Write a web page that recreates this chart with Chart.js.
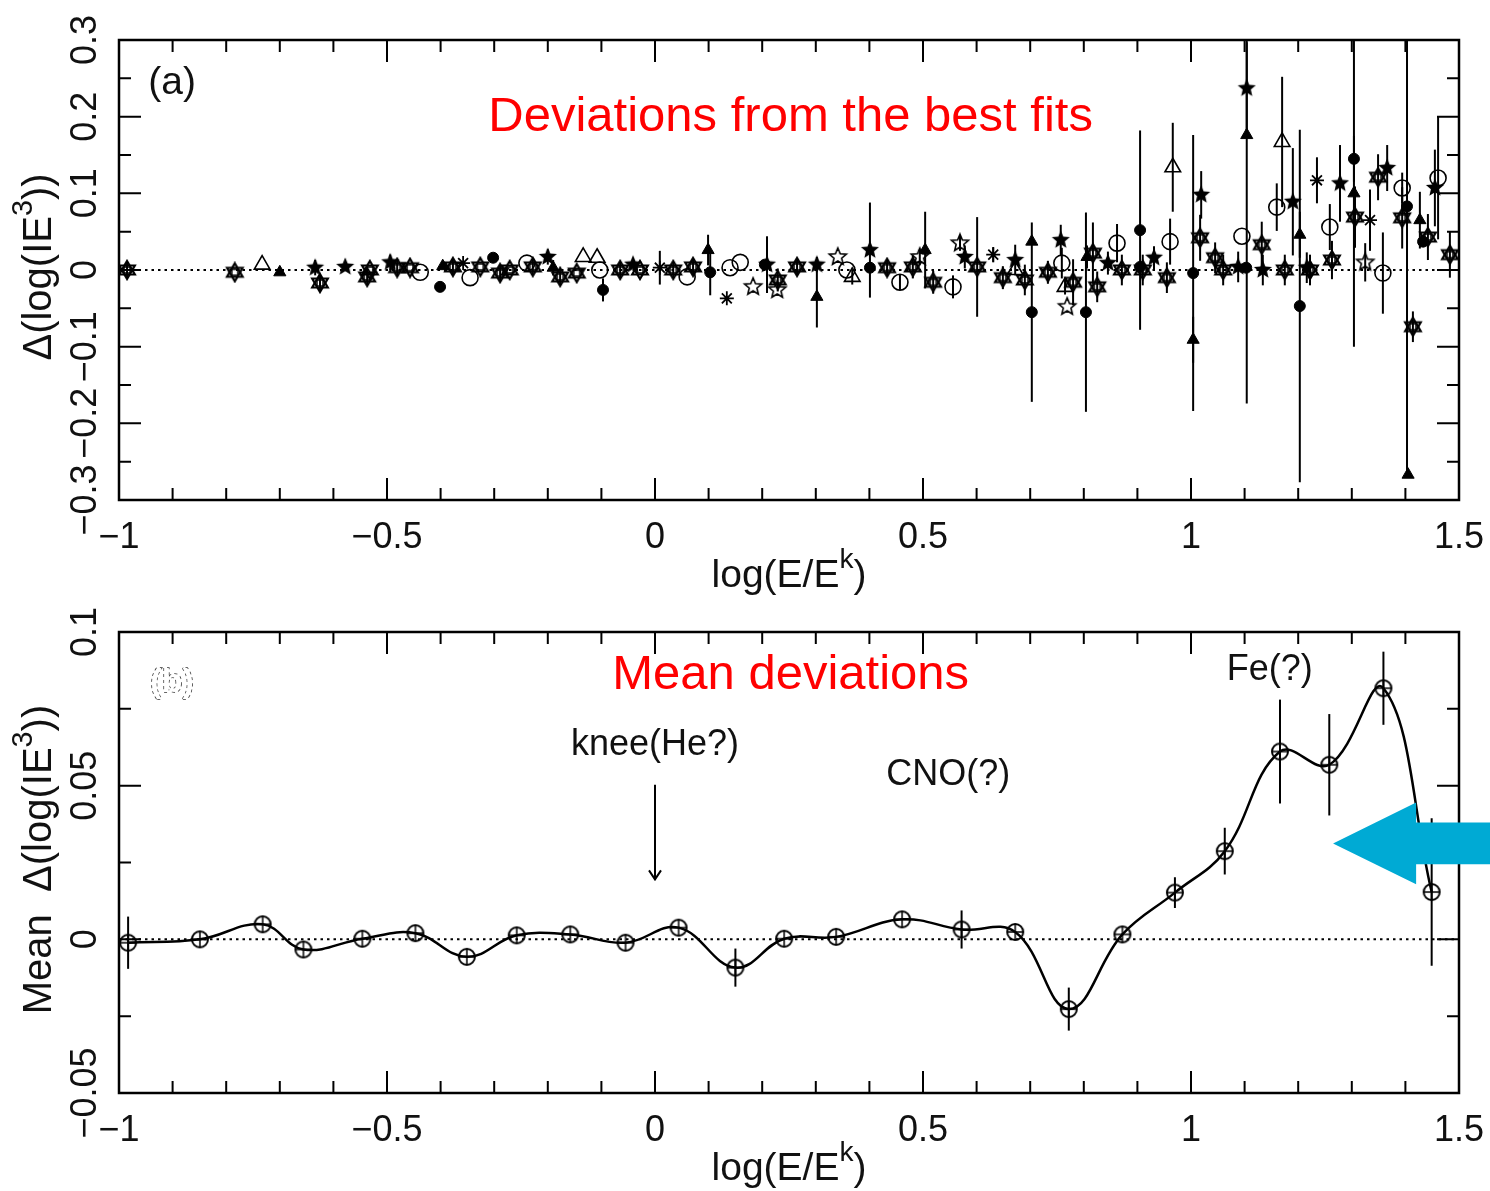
<!DOCTYPE html>
<html>
<head>
<meta charset="utf-8">
<title>Deviations from the best fits</title>
<script src="https://cdn.jsdelivr.net/npm/chart.js@4.4.0/dist/chart.umd.min.js"></script>
<style>
    html, body { margin: 0; padding: 0; background: #ffffff; }
    #wrap { position: relative; width: 1490px; height: 1191px; overflow: hidden; }
    #topChart { position: absolute; left: 0; top: 0; }
    #bottomChart { position: absolute; left: 0; top: 596px; }
</style>
</head>
<body>
<div id="wrap">
    <canvas id="topChart" width="1490" height="596"></canvas>
    <canvas id="bottomChart" width="1490" height="595"></canvas>
</div>
<script>
// Two-panel deviation plot: (a) individual deviations, (b) mean deviations

// ---- axis ticks ----
const xTickValues = [-1, -0.5, 0, 0.5, 1, 1.5];
const xTickLabels = ['\u22121', '\u22120.5', '0', '0.5', '1', '1.5'];
const topYTickValues = [-0.3, -0.2, -0.1, 0, 0.1, 0.2, 0.3];
const topYTickLabels = ['\u22120.3', '\u22120.2', '\u22120.1', '0', '0.1', '0.2', '0.3'];
const bottomYTickValues = [-0.05, 0, 0.05, 0.1];
const bottomYTickLabels = ['\u22120.05', '0', '0.05', '0.1'];

// ---- panel (a): filled circles ----
const fcX = [-0.401, -0.302, -0.097, 0.103, 0.205, 0.401, 0.703, 0.804, 0.905, 0.905, 1.004, 1.103, 1.203, 1.304, 1.403, 1.433];
const fcY = [-0.022, 0.016, -0.026, -0.003, 0.007, 0.003, -0.055, -0.055, 0.052, 0.004, -0.004, 0.003, -0.047, 0.145, 0.083, 0.037];
const fcErr = [0, 0, 0.015, 0.03, 0, 0, 0.117, 0.13, 0.13, 0, 0.18, 0, 0.23, 0.03, 0.35, 0];

// ---- panel (a): open circles ----
const ocX = [-0.438, -0.345, -0.239, -0.103, 0.060, 0.140, 0.159, 0.358, 0.457, 0.556, 0.759, 0.862, 0.961, 1.095, 1.160, 1.259, 1.358, 1.394, 1.461];
const ocY = [-0.003, -0.010, 0.009, 0, -0.009, 0.003, 0.010, 0, -0.016, -0.022, 0.009, 0.035, 0.037, 0.044, 0.082, 0.056, -0.004, 0.107, 0.120];
const ocErr = [0, 0, 0, 0, 0, 0, 0, 0, 0.01, 0.015, 0.02, 0.025, 0.03, 0, 0.031, 0.03, 0.053, 0.02, 0.08];

// ---- panel (a): filled triangles ----
const ftX = [-0.700, -0.396, -0.190, 0.099, 0.302, 0.504, 0.703, 0.806, 1.004, 1.104, 1.203, 1.304, 1.405, 1.427];
const ftY = [-0.003, 0.005, 0.003, 0.026, -0.035, 0.026, 0.037, 0.017, -0.091, 0.176, 0.046, 0.100, -0.267, 0.065];
const ftErr = [0, 0, 0.01, 0.02, 0.04, 0.05, 0, 0.015, 0.03, 0.35, 0.03, 0.2, 0, 0.037];

// ---- panel (a): open triangles ----
const otX = [-0.733, -0.134, -0.108, 0.368, 0.672, 0.765, 0.966, 1.170];
const otY = [0.007, 0.017, 0.016, -0.009, 0, -0.022, 0.134, 0.167];
const otErr = [0, 0, 0, 0.01, 0, 0.01, 0.058, 0.085];

// ---- panel (a): filled stars ----
const fsX = [-0.634, -0.578, -0.494, -0.200, -0.041, 0.209, 0.302, 0.401, 0.578, 0.672, 0.757, 0.845, 0.931, 1.019, 1.088, 1.104, 1.134, 1.190, 1.216, 1.278, 1.366, 1.455];
const fsY = [0.003, 0.004, 0.010, 0.017, 0.007, 0.007, 0.007, 0.026, 0.017, 0.013, 0.039, 0.009, 0.016, 0.098, 0.004, 0.237, 0, 0.089, 0.003, 0.113, 0.133, 0.107];
const fsErr = [0.01, 0, 0.01, 0.01, 0, 0.037, 0.01, 0.062, 0.015, 0.02, 0.02, 0.015, 0.015, 0.031, 0.02, 0.06, 0.02, 0.07, 0.02, 0.05, 0.03, 0.05];

// ---- panel (a): open stars ----
const osX = [0.183, 0.228, 0.341, 0.494, 0.569, 0.769, 1.325];
const osY = [-0.022, -0.026, 0.017, 0.017, 0.035, -0.048, 0.010];
const osErr = [0, 0, 0, 0.01, 0.01, 0, 0.025];

// ---- panel (a): asterisks ----
const asX = [-0.358, 0.009, 0.134, 0.631, 1.235, 1.334];
const asY = [0.009, 0.003, -0.037, 0.020, 0.117, 0.065];
const asErr = [0, 0.022, 0, 0.01, 0.03, 0.04];

// ---- panel (a): six-pointed stars ----
const hxX = [-0.985, -0.784, -0.625, -0.537, -0.532, -0.481, -0.457, -0.377, -0.326, -0.289, -0.271, -0.228, -0.177, -0.146, -0.065, -0.028, 0.034, 0.071, 0.229, 0.265, 0.433, 0.481, 0.519, 0.601, 0.649, 0.690, 0.733, 0.780, 0.817, 0.825, 0.871, 0.910, 0.955, 1.017, 1.045, 1.060, 1.132, 1.175, 1.222, 1.263, 1.306, 1.349, 1.394, 1.414, 1.442, 1.483];
const hxY = [0, -0.003, -0.017, -0.009, 0, 0.003, 0.003, 0.004, 0.004, -0.004, 0, 0.004, -0.009, -0.004, 0, 0, 0, 0.004, -0.013, 0.004, 0.003, 0.004, -0.016, 0.004, -0.010, -0.013, -0.003, -0.016, 0.022, -0.022, 0, 0, -0.010, 0.042, 0.016, 0, 0.033, 0, 0, 0.013, 0.069, 0.121, 0.068, -0.074, 0.043, 0.020];
const hxErr = [0.01, 0, 0.01, 0.01, 0, 0.01, 0, 0.01, 0, 0.01, 0, 0.01, 0.01, 0, 0.01, 0, 0.01, 0.01, 0.015, 0.01, 0.01, 0.015, 0.015, 0.065, 0.015, 0.02, 0.015, 0.03, 0.04, 0.02, 0.02, 0.02, 0.02, 0.03, 0.02, 0.02, 0.03, 0.02, 0.02, 0.025, 0.04, 0.03, 0.04, 0.02, 0.03, 0.03];

// ---- panel (b): mean deviations ----
const meanX = [-0.983, -0.849, -0.732, -0.656, -0.546, -0.447, -0.351, -0.258, -0.158, -0.055, 0.044, 0.150, 0.241, 0.338, 0.461, 0.572, 0.672, 0.772, 0.872, 0.970, 1.063, 1.166, 1.258, 1.359, 1.449];
const meanY = [-0.0011, 0.0000, 0.0049, -0.0033, 0.0002, 0.0020, -0.0057, 0.0013, 0.0016, -0.0011, 0.0038, -0.0092, 0.0002, 0.0008, 0.0065, 0.0032, 0.0024, -0.0227, 0.0016, 0.0152, 0.0287, 0.0611, 0.0568, 0.0817, 0.0154];
const meanErr = [0.0085, 0, 0, 0, 0, 0, 0, 0, 0, 0, 0, 0.0062, 0, 0, 0, 0.0062, 0, 0.007, 0, 0.005, 0.0076, 0.0169, 0.0165, 0.0119, 0.024];

const FONT = '"Liberation Sans", Arial, Helvetica, sans-serif';
const INK = '#111111';

document.addEventListener('DOMContentLoaded', function() {
    initTopChart();
    initBottomChart();
});

/**
 * Zip x and y arrays into {x, y} points
 */
function toPoints(xs, ys) {
    return xs.map(function(x, i) { return { x: x, y: ys[i] }; });
}

/**
 * Small offscreen canvases used as point styles
 */
function makeMarker(size, draw) {
    const c = document.createElement('canvas');
    c.width = size;
    c.height = size;
    const g = c.getContext('2d');
    g.translate(size / 2, size / 2);
    g.strokeStyle = '#000';
    g.fillStyle = '#000';
    draw(g);
    return c;
}

function starPath(g, r) {
    g.beginPath();
    for (let i = 0; i < 10; i++) {
        const rad = i % 2 === 0 ? r : r * 0.45;
        const a = -Math.PI / 2 + i * Math.PI / 5;
        g.lineTo(rad * Math.cos(a), rad * Math.sin(a));
    }
    g.closePath();
}

const filledStar = makeMarker(22, function(g) { starPath(g, 9.5); g.fill(); });
const openStar = makeMarker(22, function(g) { starPath(g, 9); g.lineWidth = 1.6; g.stroke(); });
const hexagram = makeMarker(22, function(g) {
    const r = 9;
    g.lineWidth = 2.2;
    [0, Math.PI].forEach(function(off) {
        g.beginPath();
        for (let i = 0; i < 3; i++) {
            const a = -Math.PI / 2 + off + i * 2 * Math.PI / 3;
            g.lineTo(r * Math.cos(a), r * Math.sin(a));
        }
        g.closePath();
        g.stroke();
    });
    g.lineWidth = 1.5;
    g.strokeRect(-3, -3, 6, 6);
});
const circlePlus = makeMarker(22, function(g) {
    g.lineWidth = 2;
    g.beginPath();
    g.arc(0, 0, 8, 0, Math.PI * 2);
    g.stroke();
    g.beginPath();
    g.moveTo(-8, 0); g.lineTo(8, 0);
    g.moveTo(0, -8); g.lineTo(0, 8);
    g.lineWidth = 1.5;
    g.stroke();
});

/**
 * Vertical error bars, drawn under the markers
 */
const errorBarPlugin = {
    id: 'errorBars',
    beforeDatasetsDraw(chart) {
        const { ctx, chartArea, scales } = chart;
        ctx.save();
        ctx.beginPath();
        ctx.rect(chartArea.left, chartArea.top, chartArea.width, chartArea.height);
        ctx.clip();
        ctx.strokeStyle = '#000';
        ctx.lineWidth = 2;
        chart.data.datasets.forEach(function(ds) {
            if (!ds.errors) return;
            ds.data.forEach(function(p, i) {
                const e = ds.errors[i];
                if (!e) return;
                const x = scales.x.getPixelForValue(p.x);
                ctx.beginPath();
                ctx.moveTo(x, scales.y.getPixelForValue(p.y + e));
                ctx.lineTo(x, scales.y.getPixelForValue(p.y - e));
                ctx.stroke();
            });
        });
        ctx.restore();
    }
};

/**
 * Text with superscript pieces, centred on (x, y)
 */
function drawRich(ctx, parts, x, y, size) {
    const widths = parts.map(function(p) {
        ctx.font = (p.sup ? size * 0.72 : size) + 'px ' + FONT;
        return ctx.measureText(p.text).width;
    });
    let cx = x - widths.reduce(function(a, b) { return a + b; }, 0) / 2;
    ctx.textAlign = 'left';
    ctx.textBaseline = 'middle';
    parts.forEach(function(p, i) {
        ctx.font = (p.sup ? size * 0.72 : size) + 'px ' + FONT;
        ctx.fillText(p.text, cx, p.sup ? y - size * 0.4 : y);
        cx += widths[i];
    });
}

/**
 * Frame, inward ticks, zero line, tick labels and axis titles
 */
function makeFramePlugin(cfg) {
    return {
        id: 'frame',
        beforeDatasetsDraw(chart) {
            const { ctx, chartArea, scales } = chart;
            const y0 = scales.y.getPixelForValue(0);
            ctx.save();
            ctx.strokeStyle = '#000';
            ctx.lineWidth = 2;
            ctx.setLineDash([2.5, 4]);
            ctx.beginPath();
            ctx.moveTo(chartArea.left, y0);
            ctx.lineTo(chartArea.right, y0);
            ctx.stroke();
            ctx.restore();
        },
        afterDraw(chart) {
            const { ctx, chartArea, scales } = chart;
            const sx = scales.x, sy = scales.y;
            ctx.save();
            ctx.strokeStyle = '#000';
            ctx.lineWidth = 2.5;
            ctx.strokeRect(chartArea.left, chartArea.top, chartArea.width, chartArea.height);

            // inward ticks on all four sides
            ctx.lineWidth = 2;
            const nx = Math.round((sx.max - sx.min) / 0.1);
            for (let i = 0; i <= nx; i++) {
                const v = sx.min + i * 0.1;
                const major = Math.abs(v * 2 - Math.round(v * 2)) < 1e-6;
                const len = major ? 22 : 12;
                const px = sx.getPixelForValue(v);
                ctx.beginPath();
                ctx.moveTo(px, chartArea.bottom); ctx.lineTo(px, chartArea.bottom - len);
                ctx.moveTo(px, chartArea.top); ctx.lineTo(px, chartArea.top + len);
                ctx.stroke();
            }
            const ny = Math.round((sy.max - sy.min) / cfg.yMinor);
            for (let i = 0; i <= ny; i++) {
                const v = sy.min + i * cfg.yMinor;
                const q = v / cfg.yMajor;
                const major = Math.abs(q - Math.round(q)) < 1e-6;
                const len = major ? 22 : 12;
                const py = sy.getPixelForValue(v);
                ctx.beginPath();
                ctx.moveTo(chartArea.left, py); ctx.lineTo(chartArea.left + len, py);
                ctx.moveTo(chartArea.right, py); ctx.lineTo(chartArea.right - len, py);
                ctx.stroke();
            }

            // tick labels
            ctx.fillStyle = INK;
            ctx.font = '36px ' + FONT;
            ctx.textAlign = 'center';
            ctx.textBaseline = 'middle';
            xTickValues.forEach(function(v, i) {
                ctx.fillText(xTickLabels[i], sx.getPixelForValue(v), chartArea.bottom + 38);
            });
            cfg.yValues.forEach(function(v, i) {
                ctx.save();
                ctx.translate(86, sy.getPixelForValue(v));
                ctx.rotate(-Math.PI / 2);
                ctx.textAlign = 'center';
                ctx.fillText(cfg.yLabels[i], 0, 0);
                ctx.restore();
            });

            // axis titles
            drawRich(ctx, [{ text: 'log(E/E' }, { text: 'k', sup: true }, { text: ')' }],
                (chartArea.left + chartArea.right) / 2, chartArea.bottom + 76, 39);
            ctx.save();
            ctx.translate(40, (chartArea.top + chartArea.bottom) / 2 - 3);
            ctx.rotate(-Math.PI / 2);
            drawRich(ctx, [{ text: cfg.yTitle }, { text: '3', sup: true }, { text: '))' }], 0, 0, 40);
            ctx.restore();

            if (cfg.extra) cfg.extra(chart);
            ctx.restore();
        }
    };
}

function baseOptions(yMin, yMax, padTop, padBottom) {
    return {
        responsive: false,
        animation: false,
        layout: { autoPadding: false, padding: { left: 119, right: 31, top: padTop, bottom: padBottom } },
        plugins: { legend: { display: false }, tooltip: { enabled: false } },
        scales: {
            x: { type: 'linear', min: -1, max: 1.5, display: false },
            y: { type: 'linear', min: yMin, max: yMax, display: false }
        }
    };
}

/**
 * Panel (a): deviations from the best fits
 */
function initTopChart() {
    const ctx = document.getElementById('topChart');

    const series = [
        { data: toPoints(hxX, hxY), errors: hxErr, pointStyle: hexagram, pointRadius: 10 },
        { data: toPoints(ocX, ocY), errors: ocErr, pointStyle: 'circle', pointRadius: 8, backgroundColor: 'rgba(0,0,0,0)', borderColor: '#000', borderWidth: 1.6 },
        { data: toPoints(otX, otY), errors: otErr, pointStyle: 'triangle', pointRadius: 9, backgroundColor: 'rgba(0,0,0,0)', borderColor: '#000', borderWidth: 1.6 },
        { data: toPoints(osX, osY), errors: osErr, pointStyle: openStar, pointRadius: 10 },
        { data: toPoints(asX, asY), errors: asErr, pointStyle: 'star', pointRadius: 7, borderColor: '#000', borderWidth: 1.8 },
        { data: toPoints(ftX, ftY), errors: ftErr, pointStyle: 'triangle', pointRadius: 7, backgroundColor: '#000', borderColor: '#000', borderWidth: 1 },
        { data: toPoints(fsX, fsY), errors: fsErr, pointStyle: filledStar, pointRadius: 10 },
        { data: toPoints(fcX, fcY), errors: fcErr, pointStyle: 'circle', pointRadius: 5.5, backgroundColor: '#000', borderColor: '#000', borderWidth: 1 }
    ];

    const framePlugin = makeFramePlugin({
        yValues: topYTickValues,
        yLabels: topYTickLabels,
        yMinor: 0.05,
        yMajor: 0.1,
        yTitle: '\u0394(log(IE',
        extra: function(chart) {
            const c = chart.ctx, sx = chart.scales.x, sy = chart.scales.y;
            c.fillStyle = INK;
            c.font = '39px ' + FONT;
            c.textAlign = 'center';
            c.textBaseline = 'middle';
            c.fillText('(a)', sx.getPixelForValue(-0.901), sy.getPixelForValue(0.244));
            c.fillStyle = '#ff0000';
            c.font = '49px ' + FONT;
            c.fillText('Deviations from the best fits', sx.getPixelForValue(0.253), sy.getPixelForValue(0.199));
        }
    });

    new Chart(ctx, {
        type: 'scatter',
        data: { datasets: series },
        options: baseOptions(-0.3, 0.3, 40, 96),
        plugins: [errorBarPlugin, framePlugin]
    });
}

/**
 * Panel (b): mean deviations with spline through the points
 */
function initBottomChart() {
    const ctx = document.getElementById('bottomChart');

    const framePlugin = makeFramePlugin({
        yValues: bottomYTickValues,
        yLabels: bottomYTickLabels,
        yMinor: 0.025,
        yMajor: 0.05,
        yTitle: 'Mean  \u0394(log(IE',
        extra: function(chart) {
            const c = chart.ctx, sx = chart.scales.x, sy = chart.scales.y;
            c.textAlign = 'center';
            c.textBaseline = 'middle';

            // faded panel label
            c.font = 'bold 34px ' + FONT;
            c.fillStyle = '#ffffff';
            c.strokeStyle = '#333';
            c.lineWidth = 1.5;
            c.setLineDash([3, 3]);
            c.strokeText('(b)', sx.getPixelForValue(-0.901), sy.getPixelForValue(0.0834));
            c.fillText('(b)', sx.getPixelForValue(-0.901), sy.getPixelForValue(0.0834));
            c.setLineDash([]);

            c.fillStyle = '#ff0000';
            c.font = '49px ' + FONT;
            c.fillText('Mean deviations', sx.getPixelForValue(0.253), sy.getPixelForValue(0.0857));

            c.fillStyle = INK;
            c.font = '36px ' + FONT;
            c.fillText('knee(He?)', sx.getPixelForValue(0), sy.getPixelForValue(0.0633));
            c.fillText('CNO(?)', sx.getPixelForValue(0.547), sy.getPixelForValue(0.0536));
            c.fillText('Fe(?)', sx.getPixelForValue(1.147), sy.getPixelForValue(0.0877));

            // knee arrow
            const ax = sx.getPixelForValue(0);
            const ay1 = sy.getPixelForValue(0.0503), ay2 = sy.getPixelForValue(0.0195);
            c.strokeStyle = '#000';
            c.lineWidth = 2;
            c.beginPath();
            c.moveTo(ax, ay1); c.lineTo(ax, ay2);
            c.moveTo(ax - 6, ay2 - 9); c.lineTo(ax, ay2); c.lineTo(ax + 6, ay2 - 9);
            c.stroke();

            // blue arrow pointing at the Fe bump
            const tipX = sx.getPixelForValue(1.265), tipY = sy.getPixelForValue(0.0312);
            const baseX = sx.getPixelForValue(1.420);
            const endX = sx.getPixelForValue(1.56);
            c.fillStyle = '#00aad4';
            c.beginPath();
            c.moveTo(tipX, tipY);
            c.lineTo(baseX, sy.getPixelForValue(0.0445));
            c.lineTo(baseX, sy.getPixelForValue(0.0380));
            c.lineTo(endX, sy.getPixelForValue(0.0380));
            c.lineTo(endX, sy.getPixelForValue(0.0244));
            c.lineTo(baseX, sy.getPixelForValue(0.0244));
            c.lineTo(baseX, sy.getPixelForValue(0.0179));
            c.closePath();
            c.fill();
        }
    });

    new Chart(ctx, {
        type: 'scatter',
        data: {
            datasets: [{
                data: toPoints(meanX, meanY),
                errors: meanErr,
                showLine: true,
                tension: 0.4,
                borderColor: '#000',
                borderWidth: 2.5,
                pointStyle: circlePlus,
                pointRadius: 9
            }]
        },
        options: baseOptions(-0.05, 0.1, 36, 98),
        plugins: [errorBarPlugin, framePlugin]
    });
}
</script>
</body>
</html>
